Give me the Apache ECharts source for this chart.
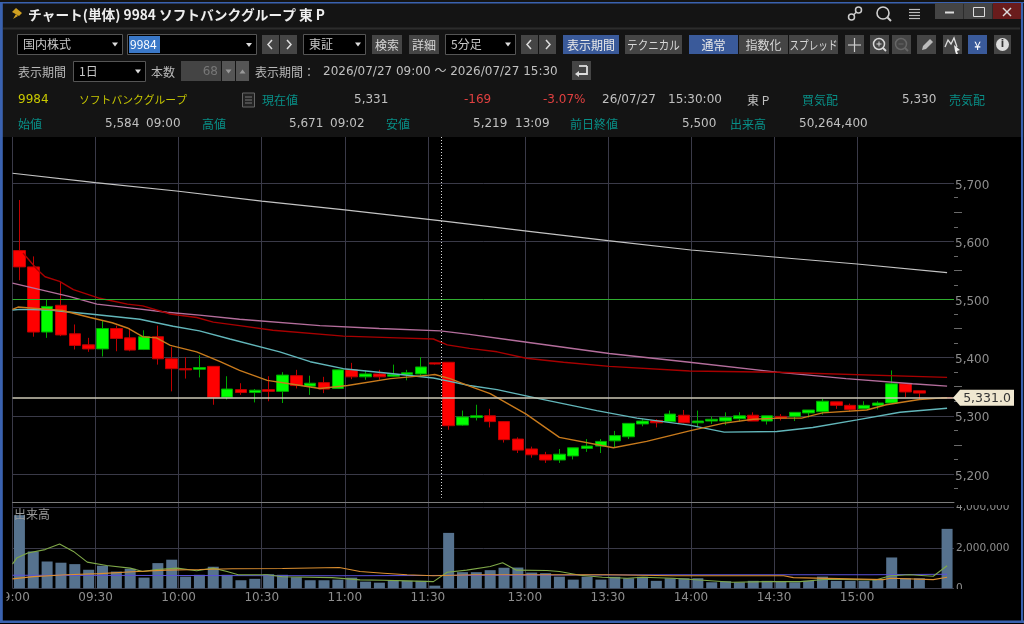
<!DOCTYPE html>
<html><head><meta charset="utf-8">
<style>html,body{margin:0;padding:0;background:#000}#c{width:1024px;height:624px}</style>
<script src="https://cdn.jsdelivr.net/npm/echarts@6/dist/echarts.min.js"></script>
</head><body><div id="c"></div>
<script>
const opens =[5584,5556,5444,5490,5441,5422,5415,5450,5434,5414,5436,5398,5381,5380,5385,5332,5345,5340,5345,5342,5369,5351,5357,5347,5379,5367,5372,5368,5371,5372,5391,5392,5284,5297,5300,5290,5260,5243,5233,5224,5231,5244,5248,5257,5264,5286,5292,5290,5301,5288,5291,5291,5295,5301,5291,5299,5299,5305,5307,5324,5318,5312,5318,5322,5355,5343,null,5331];
const closes=[5556,5444,5488,5439,5421,5415,5450,5433,5413,5436,5398,5381,5379,5383,5332,5346,5340,5344,5342,5370,5352,5356,5346,5379,5367,5372,5367,5371,5374,5384,5389,5283,5298,5300,5290,5259,5241,5233,5224,5234,5245,5248,5256,5266,5287,5291,5288,5303,5288,5291,5294,5297,5300,5291,5300,5296,5306,5310,5325,5318,5311,5318,5322,5355,5341,5339,null,5331];
const lows  =[5533,5436,5434,5437,5414,5410,5402,5411,5411,5413,5388,5342,5364,5366,5319,5328,5336,5323,5325,5322,5347,5336,5339,5347,5363,5362,5362,5367,5361,5369,5388,5276,5283,5292,5280,5254,5236,5228,5219,5219,5225,5238,5236,5246,5260,5282,5280,5290,5287,5280,5286,5284,5290,5291,5285,5292,5291,5297,5302,5312,5307,5312,5311,5322,5332,5328,null,5331];
const highs =[5671,5574,5500,5530,5457,5434,5463,5455,5451,5447,5455,5418,5401,5404,5385,5368,5356,5346,5368,5375,5379,5369,5367,5379,5391,5378,5379,5388,5379,5401,5391,5392,5309,5319,5312,5291,5263,5247,5238,5243,5245,5260,5260,5274,5287,5295,5294,5309,5310,5309,5299,5306,5306,5306,5300,5303,5306,5310,5329,5324,5321,5325,5325,5378,5355,5343,null,5331];
const volumes=[3630000,1830000,1330000,1270000,1200000,920000,1120000,830000,970000,530000,1250000,1420000,580000,670000,1070000,670000,400000,470000,700000,670000,550000,400000,400000,430000,530000,330000,280000,400000,370000,370000,130000,2750000,800000,800000,900000,1020000,1030000,780000,750000,580000,430000,580000,430000,570000,500000,570000,370000,500000,500000,500000,300000,350000,300000,370000,370000,350000,300000,370000,580000,370000,370000,370000,420000,1530000,500000,500000,null,2950000];
const barCats=opens.map((_,i)=>'b'+i);

const maWhiteAt=[0,6,12,18,24,31,37,43,49,55,61,67.5];
const maWhite  =[5717,5701,5686,5669,5654,5635,5618,5601,5585,5573,5561,5546];
const maPinkAt=[0,2,4.15,6.1,8.3,11.15,13.5,16.4,22.2,26.5,30.9,33,36.1,43.1,48.9,55.2,60.2,65,67.5];
const maPink  =[5528,5517,5505,5492,5486,5478,5473,5466,5455,5450,5446,5440,5430,5407,5392,5375,5364,5355,5351];
const maRedAt=[0.76,1.8,2.35,3.4,4.4,6.3,8.3,9.4,11.4,13.3,14.5,16.4,18.8,23.9,27.8,30.4,31.4,33,35,37.1,39.8,43.1,48.9,55.2,67.5];
const maRed  =[5580,5551,5539,5531,5517,5502,5492,5489,5475,5469,5461,5455,5447,5437,5434,5432,5422,5416,5410,5399,5392,5385,5377,5375,5366];
const maTealAt=[0,0.6,2.7,3.9,5.6,9.2,11.6,13.5,15.7,19.3,21.5,23.9,26.8,30.4,31.4,33,35,38.1,42.2,45.1,48.9,51.4,55.2,57.8,61,64.1,67.5];
const maTeal  =[5482,5483,5482,5479,5475,5466,5454,5446,5432,5410,5393,5381,5374,5365,5360,5352,5345,5329,5309,5296,5284,5272,5273,5280,5293,5306,5313];
const maOrangeAt=[0,0.4,1.5,3.6,5.6,7.2,8.3,9.4,10.4,11.4,13.3,15,16.4,18.4,20,22.2,24.2,27.3,30.1,30.5,31.6,33,34.5,37.1,39.5,43.4,45.8,48.9,51.3,53.5,55.4,57,58.5,61.7,63.1,65.5,66.7,67.5];
const maOrange  =[5483,5487,5485,5481,5469,5460,5451,5436,5434,5421,5410,5393,5378,5361,5355,5347,5352,5364,5370,5371,5364,5351,5338,5303,5263,5245,5256,5274,5287,5294,5296,5296,5305,5310,5319,5328,5330,5331];

const volGreenAt=[0,0.3,1.1,2.35,3.4,4.4,5.4,6.8,8.5,9.4,10.4,11.9,13.3,14.5,15.5,16.3,18.4,19.5,23.1,25.1,26.8,28.5,30.4,31.4,32.8,34.5,35.4,36.4,38.6,39.5,41,42.6,44.4,45.5,47.7,49.9,52,54.5,56.9,58.8,62.4,63.4,64.8,66.5,67.5];
const volGreen  =[1200000,1500000,1750000,1920000,2200000,1830000,1300000,1130000,1000000,830000,930000,1000000,870000,1000000,830000,670000,670000,570000,530000,420000,400000,370000,330000,800000,900000,1080000,1270000,900000,880000,830000,650000,550000,500000,550000,500000,400000,300000,330000,330000,450000,420000,620000,670000,600000,1120000];
const volOrangeAt=[0,1.5,3.9,6.3,8.7,11.1,13.5,15.9,19.5,23.6,25.1,26.8,28.5,30.4,33.3,43,47.7,55.7,56.4,60.5,62.9,63.4,66.5,67.5];
const volOrange  =[470000,580000,670000,730000,820000,900000,930000,970000,980000,1030000,830000,750000,670000,620000,670000,670000,620000,620000,530000,470000,430000,500000,430000,550000];
const volBlueAt=[0,23.6,47.7,62,67.5];
const volBlue  =[650000,620000,670000,670000,700000];

const timeTickBars=[0,6,12,18,24,30,37,43,49,55,61];
const timeLabels=['09:00','09:30','10:00','10:30','11:00','11:30','13:00','13:30','14:00','14:30','15:00'];
const priceTicks=[5200,5300,5400,5500,5600,5700];
const priceGridLines=[5200,5300,5400,5600,5700];
const priceShortTicks=[5175,5225,5275,5325,5375,5425,5475,5525,5575,5625,5675];
const priceMidTicks=[5250,5350,5450,5550,5650];
const volTicks=[0,2000000,4000000];
const lastPrice=5331, prevClose=5500, sessionBreakBar=31;

const FF='"DejaVu Sans","Noto Sans CJK JP",sans-serif';
const JP='"Noto Sans CJK JP",sans-serif';
const g=[];
const rect=(x,y,w,h,fill,stroke,z)=>g.push({type:'rect',z:z||1,silent:true,shape:{x,y,width:w,height:h},style:{fill:fill||'none',stroke:stroke||null,lineWidth:1}});
const txt=(s,x,y,fill,o)=>{o=o||{};const el={type:'text',z:5,silent:true,style:{text:s,x,y,fill:fill||'#c8c8c8',font:o.font||('12px '+FF),align:o.align||'left',verticalAlign:'middle'}};
  if(o.sx){el.scaleX=o.sx;el.originX=x;el.originY=y;}g.push(el);};
const ln=(x1,y1,x2,y2,c,w)=>g.push({type:'line',z:5,silent:true,shape:{x1,y1,x2,y2},style:{stroke:c||'#ccc',lineWidth:w||1}});
const poly=(pts,fill)=>g.push({type:'polygon',z:5,silent:true,shape:{points:pts},style:{fill}});
const pl=(pts,c,w)=>g.push({type:'polyline',z:5,silent:true,shape:{points:pts},style:{stroke:c,lineWidth:w||1.5,fill:null}});
const circ=(cx,cy,r,c,w)=>g.push({type:'circle',z:5,silent:true,shape:{cx,cy,r},style:{stroke:c,lineWidth:w||1.5,fill:null}});
const BTN='#454545',BLUE='#3a5a9a',TEAL='#089088',LBL='#b8b8b8',VAL='#c0c0c0';
const jp12='12px '+JP;
const arrowDn=(x,y,c)=>poly([[x-3,y-2],[x+3,y-2],[x,y+2]],c||'#ddd');
const select=(x,w,y,h,t)=>{rect(x+.5,y+.5,w,h,'#000','#555');txt(t,x+6,y+h/2+.5,'#c8c8c8',{font:jp12});arrowDn(x+w-7,y+h/2+.5);};
const btn=(x,w,y,h,t,bg,c,sx)=>{rect(x,y,w,h,bg||BTN);if(t)txt(t,x+w/2,y+h/2+.5,c||'#d8d8d8',{font:jp12,align:'center',sx});};

// window frame + header
rect(0,0,1024,137,'#141414');
rect(0,2,1024,1.5,'#3a62b0');
ln(3,28.5,1020,28.5,'#2c2c2c',2);
poly([[12,12],[16,8],[22,13],[19,16]],'#d0a020');poly([[13,19],[16,14],[18,16]],'#d0a020');
txt('チャート(単体) 9984 ソフトバンクグループ 東 P',28,15,'#eeeeee',{font:'bold 13.7px '+JP});
circ(851.5,17,3,'#cccccc');circ(858.5,10,3,'#cccccc');ln(853.5,15,856.5,12,'#ccc',1.5);
circ(883,13,6,'#d0d0d0',1.6);ln(887.5,17.5,891,21,'#d0d0d0',2);
[10,13,16,19].forEach(y=>ln(909,y-.5,920,y-.5,'#bbb',1.2));
rect(935,3,28.5,16,'#444444');rect(964,3,28.5,16,'#444444');rect(993,3,28,16,'#6a1c1c');
rect(945,11.5,9,2,'#dddddd');rect(973.5,7.5,11,9,null,'#dddddd');
ln(1003,8,1011,16,'#ddd',1.5);ln(1011,8,1003,16,'#ddd',1.5);
// row 1
select(17,105,34,20,'国内株式');
rect(127.5,34.5,129,20,'#000','#555');rect(129,36,31,17,'#3a78c8');txt('9984',130,44.5,'#fff',{font:'12px '+JP});arrowDn(249,45);
btn(262,17,35,19,'');btn(280,17,35,19,'');pl([[272,40],[268,44.5],[272,49]],'#ddd');pl([[287,40],[291,44.5],[287,49]],'#ddd');
select(303,62,34,20,'東証');
btn(372,30,35,19,'検索');btn(409,30,35,19,'詳細');
select(445,70,34,20,'5分足');
btn(521,17,35,19,'');btn(539,17,35,19,'');pl([[531,40],[527,44.5],[531,49]],'#ddd');pl([[546,40],[550,44.5],[546,49]],'#ddd');
btn(563,56,35,19,'表示期間',BLUE,'#e8e8e8');btn(625,57,35,19,'テクニカル',null,null,.88);
btn(689,49,35,19,'通常',BLUE,'#e8e8e8');btn(739,49,35,19,'指数化');btn(789,49,35,19,'スプレッド',null,null,.8);
btn(845,19,35,19,'');ln(854.5,38,854.5,52,'#ccc',1.2);ln(848,45,861,45,'#ccc',1.2);
btn(870,19,35,19,'');circ(879,44,5.5,'#d8d8d8',1.5);ln(883,48,886,51,'#d8d8d8',1.8);ln(876.5,44,881.5,44,'#d8d8d8');ln(879,41.5,879,46.5,'#d8d8d8');
btn(892,19,35,19,'');circ(901,44,5.5,'#666',1.5);ln(905,48,908,51,'#666',1.8);ln(898.5,44,903.5,44,'#666');
btn(917,19,35,19,'');poly([[922,50],[923,46],[930,39],[933,42],[926,49]],'#bbb');
btn(943,19,35,19,'');pl([[945,47],[948,40],[951,44],[954,38],[957,47]],'#ddd',1.3);poly([[954,45],[960,50],[957,51],[958,54],[956,54],[955,51]],'#eee');
btn(968,19,35,19,'¥',BLUE,'#fff');
btn(994,17,35,19,'');g.push({type:'circle',z:5,silent:true,shape:{cx:1002.5,cy:44.5,r:6.5},style:{fill:'#dddddd'}});txt('i',1002.5,44.5,'#333',{font:'bold 10px '+FF,align:'center'});
// row 2
txt('表示期間',18,72,LBL,{font:jp12});
select(73,72,61,20,'1日');
txt('本数',151,72,LBL,{font:jp12});
rect(181,61,40,20,'#444');txt('68',218,71.5,'#777',{align:'right'});
rect(222,61,13,20,'#555');rect(236,61,13,20,'#555');arrowDn(228.5,71.5,'#999');poly([[239.5,73.5],[245.5,73.5],[242.5,69.5]],'#999');
txt('表示期間：',255,72,LBL,{font:jp12});
txt('2026/07/27 09:00 〜 2026/07/27 15:30',323,72,VAL);
btn(572,19,61,19,'');pl([[587,66],[587,74],[577,74]],'#ddd',1.8);poly([[579,71],[579,77],[575,74]],'#ddd');pl([[587,66],[579,66]],'#ddd',1.8);
// row 3
txt('9984',18,100,'#c8c800');
txt('ソフトバンクグループ',79,100,'#c8c800',{font:'10.8px '+JP});
rect(242.5,93,12,14,'#222','#666');[97,100,103].forEach(y=>ln(245,y,252,y,'#777'));
txt('現在値',262,100,TEAL,{font:jp12});
txt('5,331',354,100,VAL);
txt('-169',464,100,'#e04040');
txt('-3.07%',543,100,'#e04040');
txt('26/07/27',602,100,VAL);txt('15:30:00',668,100,VAL);
txt('東 P',747,100,VAL,{font:jp12});
txt('買気配',802,100,TEAL,{font:jp12});
txt('5,330',902,100,VAL);
txt('売気配',949,100,TEAL,{font:jp12});
// row 4
txt('始値',18,124,TEAL,{font:jp12});txt('5,584',105,124,VAL);txt('09:00',146,124,VAL);
txt('高値',202,124,TEAL,{font:jp12});txt('5,671',289,124,VAL);txt('09:02',330,124,VAL);
txt('安値',386,124,TEAL,{font:jp12});txt('5,219',473,124,VAL);txt('13:09',515,124,VAL);
txt('前日終値',570,124,TEAL,{font:jp12});txt('5,500',682,124,VAL);
txt('出来高',730,124,TEAL,{font:jp12});txt('50,264,400',799,124,VAL);
// pane caption
txt('出来高',14,514,'#9a9a9a',{font:jp12});
// masks that clip axis labels, frame on top
rect(955,498,60,7,'#000',null,50);
rect(955,589,60,5,'#000',null,50);
rect(0,590,6.5,14,'#000',null,50);
rect(0,3,2.8,620,'#3a62b0',null,60);
rect(1021,3,2.2,618,'#3a62b0',null,60);
rect(1023.2,3,1,621,'#1a1a1a',null,60);
rect(0,620.5,1024,2.5,'#3a62b0',null,60);

const zip=(a,b)=>a.map((x,i)=>[x,b[i]]);
const maLine=(name,at,vals,color,width)=>({name,type:'line',xAxisIndex:1,yAxisIndex:0,data:zip(at,vals),symbol:'none',z:4,
  lineStyle:{color,width:width||1.4},itemStyle:{color},silent:true});
const volLine=(name,at,vals,color)=>({name,type:'line',xAxisIndex:3,yAxisIndex:2,data:zip(at,vals),symbol:'none',z:4,
  lineStyle:{color,width:1.1},itemStyle:{color},silent:true});
const comma=v=>String(v).replace(/\B(?=(\d{3})+$)/g,',');
const GRID='#3a3a48',AX='#8e8e8e',MINV=5151.3,MAXV=5779.3;

const whiteSeries=maLine('MA long',maWhiteAt,maWhite,'#c4c4c4',1.2);
whiteSeries.markLine={silent:true,symbol:'none',animation:false,label:{show:false},data:[
  {yAxis:prevClose,lineStyle:{color:'#2fae2f',width:1,type:'solid'}},
  {yAxis:lastPrice,lineStyle:{color:'#cdc8b6',width:1.5,type:'solid'}},
  [{coord:[sessionBreakBar,MAXV],lineStyle:{color:'#d8d8d8',width:1,type:[1,2]}},{coord:[sessionBreakBar,5159]}]
]};
const tickAxis=(customValues,length)=>({type:'value',gridIndex:0,position:'right',min:MINV,max:MAXV,axisLine:{show:false},axisLabel:{show:false},splitLine:{show:false},
  axisTick:{show:true,length,customValues,lineStyle:{color:'#6a6a6a'}}});

const option={
  animation:false,backgroundColor:'#000',
  textStyle:{fontFamily:FF},
  graphic:{elements:g},
  grid:[{left:12.5,right:70,top:137,bottom:121.7,outerBoundsMode:'none'},{left:12.5,right:70,top:502.3,bottom:35.7,outerBoundsMode:'none'}],
  xAxis:[
    {type:'category',gridIndex:0,position:'bottom',data:barCats,show:false,boundaryGap:true},
    {type:'value',gridIndex:0,position:'bottom',min:0,max:68,axisLabel:{show:false},axisTick:{show:false,customValues:timeTickBars},
      axisLine:{show:true,onZero:false,lineStyle:{color:'#7c7c7c'}},splitLine:{show:true,lineStyle:{color:GRID}}},
    {type:'category',gridIndex:1,position:'bottom',data:barCats,show:false,boundaryGap:true},
    {type:'value',gridIndex:1,position:'bottom',min:0,max:68,axisLine:{show:false},axisTick:{show:false,customValues:timeTickBars},
      splitLine:{show:true,lineStyle:{color:GRID}},
      axisLabel:{customValues:timeTickBars,color:AX,fontSize:12,margin:4,hideOverlap:false,alignMinLabel:'center',formatter:v=>timeLabels[timeTickBars.indexOf(v)]}}
  ],
  yAxis:[
    {type:'value',gridIndex:0,position:'right',min:MINV,max:MAXV,axisLine:{show:false},axisTick:{show:false,customValues:priceGridLines},
      splitLine:{show:true,lineStyle:{color:GRID}},
      axisLabel:{customValues:priceTicks,color:AX,fontSize:12,margin:1,verticalAlign:'top',lineHeight:5,formatter:comma}},
    tickAxis(priceShortTicks,4),
    {type:'value',gridIndex:1,position:'right',min:0,max:4268000,axisLine:{show:false},axisTick:{show:false,customValues:volTicks},
      splitLine:{show:true,lineStyle:{color:GRID}},
      axisLabel:{customValues:volTicks,color:AX,fontSize:10.5,margin:2,formatter:comma}},
    tickAxis(priceMidTicks,8)
  ],
  series:[
    {type:'candlestick',xAxisIndex:0,yAxisIndex:0,barWidth:12,z:3,silent:true,
      data:opens.map((o,i)=>o===null?['-','-','-','-']:[o,closes[i],lows[i],highs[i]]),
      itemStyle:{color:'#00ff00',color0:'#ff0000',borderColor:'#00a800',borderColor0:'#c00000',borderWidth:1}},
    {type:'bar',xAxisIndex:2,yAxisIndex:2,barWidth:11,z:3,silent:true,data:volumes,itemStyle:{color:'#56728e'}},
    whiteSeries,
    maLine('MA pink',maPinkAt,maPink,'#b46e9c'),
    maLine('MA red',maRedAt,maRed,'#a80000'),
    maLine('MA teal',maTealAt,maTeal,'#62b6ba'),
    maLine('MA orange',maOrangeAt,maOrange,'#c87a1c'),
    volLine('Vol blue',volBlueAt,volBlue,'#5a50d8'),
    volLine('Vol green',volGreenAt,volGreen,'#7fa848'),
    volLine('Vol orange',volOrangeAt,volOrange,'#dc8f30'),
    {type:'custom',xAxisIndex:1,yAxisIndex:0,z:10,silent:true,clip:false,data:[[68,lastPrice]],
      renderItem:(params,api)=>{
        const p=api.coord([api.value(0),api.value(1)]);
        const x=p[0]-1,y=p[1];
        return {type:'group',children:[
          {type:'polygon',shape:{points:[[x,y],[x+7,y-8],[x+61,y-8],[x+61,y+8],[x+7,y+8]]},style:{fill:'#efe7d0'}},
          {type:'text',style:{text:comma(api.value(1))+'.0',x:x+34,y:y+.5,fill:'#333',font:'12.5px '+FF,align:'center',verticalAlign:'middle'}}
        ]};
      }}
  ]
};
echarts.init(document.getElementById('c')).setOption(option);
</script></body></html>
